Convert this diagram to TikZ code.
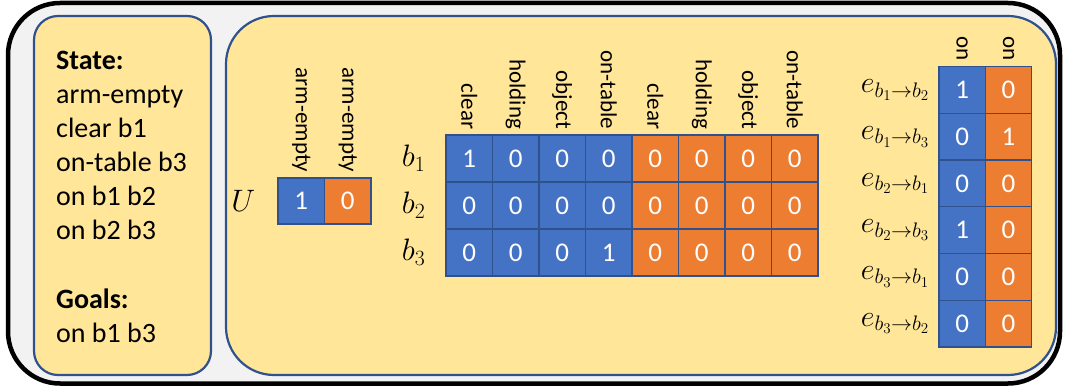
\RequirePackage{fix-cm}
\documentclass[tikz,border=0pt]{standalone}
\usepackage{fontspec}
\setmainfont{Carlito}
\definecolor{bggray}{HTML}{F2F2F2}
\definecolor{panelfill}{HTML}{FFE699}
\definecolor{panelline}{HTML}{2F528F}
\definecolor{cellblue}{HTML}{4472C4}
\definecolor{cellorange}{HTML}{ED7D31}
\definecolor{cellline}{HTML}{2F528F}

\tikzset{
  panel/.style={draw=panelline, line width=2.2pt, fill=panelfill},
  cell/.style={draw=cellline, line width=1.2pt, inner sep=0pt, minimum width=46.5pt, minimum height=47pt, text=white, font=\fontsize{27}{30}\selectfont},
  bluecell/.style={cell, fill=cellblue},
  orangecell/.style={cell, fill=cellorange},
  collabel/.style={rotate=-90, anchor=east, inner sep=0pt, font=\fontsize{23}{26}\selectfont},
  rowlabel/.style={anchor=east, inner sep=0pt, font=\fontsize{31}{34}\selectfont},
  statetext/.style={anchor=base west, inner sep=0pt, font=\fontsize{28}{34}\selectfont},
}

\begin{document}
\begin{tikzpicture}[x=1pt,y=-1pt]
  \useasboundingbox (0,0) rectangle (1065,387);
  % frame and the two panels
  \draw[line width=4.5pt, fill=bggray, rounded corners=52pt] (8,3) rectangle (1060,383.5);
  \draw[panel, rounded corners=24pt] (34,16) rectangle (211,375);
  \draw[panel, rounded corners=48pt] (226,16) rectangle (1056,375);

  % state and goals
  \foreach \y/\txt [count=\i] in {70/{\textbf{State:}}, 104/arm-empty, 138/clear b1, 172/on-table b3, 206/on b1 b2, 240/on b2 b3, 308/{\textbf{Goals:}}, 342/on b1 b3}
    \node[statetext] (s\i) at (56,\y) {\txt};

  % global features
  \def\cw{46.5}
  \foreach \v/\sty [count=\c] in {1/bluecell, 0/orangecell}
    \node[\sty, minimum height=46pt] (u\c) at (278+\cw*\c-\cw/2, 201) {\v};
  \foreach \c in {1,2}
    \node[collabel] (ul\c) at ([yshift=5pt]u\c.north) {arm-empty};
  \node[rowlabel] (U) at ([xshift=-22pt]u1.west) {$U$};

  % object features
  \foreach \vals [count=\r] in {{1,0,0,0,0,0,0,0},{0,0,0,0,0,0,0,0},{0,0,0,1,0,0,0,0}}
    \foreach \v [count=\c] in \vals {
      \ifnum\c<5 \def\sty{bluecell}\else\def\sty{orangecell}\fi
      \node[\sty] (b\r-\c) at (446+\cw*\c-\cw/2, 135+47*\r-23.5) {\v};
    }
  \foreach \txt [count=\c] in {clear,holding,object,on-table,clear,holding,object,on-table}
    \node[collabel] (bl\c) at ([yshift=5pt]b1-\c.north) {\txt};
  \foreach \r in {1,2,3}
    \node[rowlabel] (bn\r) at ([xshift=-20pt]b\r-1.west) {$b_{\r}$};

  % edge features
  \foreach \i/\j/\p/\q [count=\r] in {1/2/1/0, 1/3/0/1, 2/1/0/0, 2/3/1/0, 3/1/0/0, 3/2/0/0} {
    \node[bluecell, minimum width=46.3pt, minimum height=46.7pt] (e\r-1) at (962.2, 66.7+46.7*\r-23.35) {\p};
    \node[orangecell, minimum width=46.3pt, minimum height=46.7pt] (e\r-2) at (1008.5, 66.7+46.7*\r-23.35) {\q};
    \node[rowlabel, font=\fontsize{30}{33}\selectfont] (en\r) at ([xshift=-9pt]e\r-1.west) {$e_{b_{\i}\to b_{\j}}$};
  }
  \foreach \c in {1,2}
    \node[collabel] (el\c) at ([yshift=5pt]e1-\c.north) {on};
\end{tikzpicture}
\end{document}
